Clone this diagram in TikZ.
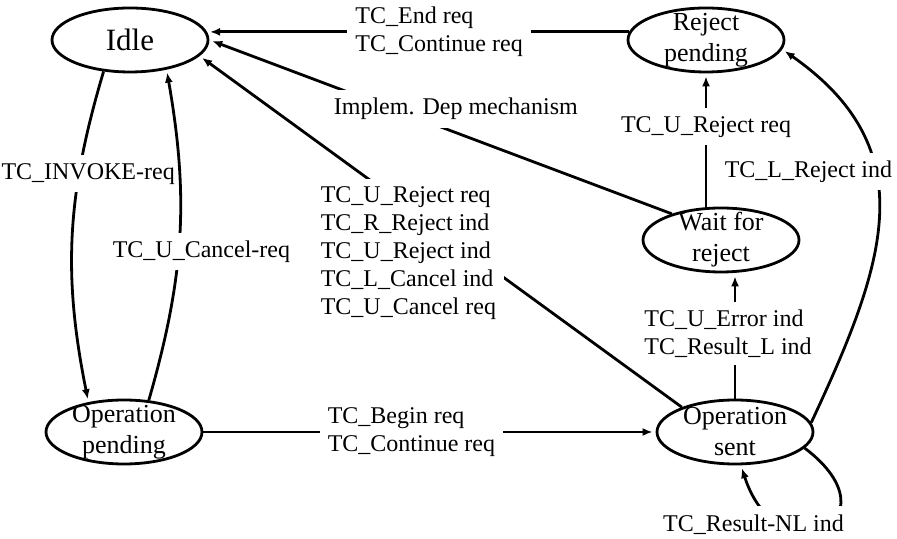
\documentclass[tikz,border=0pt]{standalone}
\usepackage{fontspec}
\setmainfont{Liberation Serif}
\usetikzlibrary{shapes.geometric, positioning, arrows.meta}

\begin{document}
\begin{tikzpicture}[shorten >=1.5pt, on grid, line width=1.4pt, >={Latex[length=5pt,width=4pt]},
    state/.style={ellipse, draw, minimum width=78pt, minimum height=32pt, inner xsep=0pt, inner ysep=-6pt,
      align=center, font=\fontsize{13}{15.5}\selectfont},
    lbl/.style={fill=white, inner sep=4pt, align=left, font=\fontsize{12}{14}\selectfont}]
      \useasboundingbox (0,0) rectangle (448.5pt,269.5pt);
      \node[state, font=\fontsize{15.5}{18}\selectfont] (idle) at (65pt,249.5pt) {Idle};
      \node[state] (rej)  [right=288pt of idle] {Reject\\pending};
      \node[state] (pend) [below left=196pt and 3pt of idle] {Operation\\pending};
      \node[state] (sent) [right=305.5pt of pend] {Operation\\sent};
      \node[state] (wait) [above left=96pt and 7pt of sent] {Wait for\\reject};
      \path[->]
      (rej.174) edge node[lbl, pos=0.45] (l_end) {TC\_End req\\TC\_Continue req} (idle.6)
      (wait.152) edge node[lbl, pos=0.467, yshift=12pt] (l_impl) {Implem. Dep mechanism} (idle.east)
      (sent.155) edge node[lbl, pos=0.567, yshift=-22.5pt] (l_abort)
            {TC\_U\_Reject req\\TC\_R\_Reject ind\\TC\_U\_Reject ind\\TC\_L\_Cancel ind\\TC\_U\_Cancel req} (idle.-13)
      (idle.-130) edge [bend right=14] node[lbl, pos=0.3, xshift=4.5pt, inner xsep=1pt] (l_inv) {TC\_INVOKE-req} (pend.140)
      (pend.52) edge [bend right=13] node[lbl, pos=0.45, xshift=11.5pt] (l_canc) {TC\_U\_Cancel-req} (idle.-39)
      (pend) edge node[lbl, pos=0.46] (l_begin) {TC\_Begin req\\TC\_Continue req} (sent)
      (sent.north) edge node[lbl, pos=0.52, xshift=-3.5pt] (l_err) {TC\_U\_Error ind\\TC\_Result\_L ind} (sent.north |- wait.south)
      (wait.north -| rej.south) edge node[lbl, pos=0.6] (l_urej) {TC\_U\_Reject req} (rej.south)
      (sent.7) edge [out=65, in=-35, looseness=1.2] node[lbl, pos=0.62, xshift=-33pt] (l_lrej) {TC\_L\_Reject ind} (rej.-7)
      (sent.-13) edge [out=-37, in=-72, looseness=4.7] node[lbl, pos=0.55, xshift=-31pt, yshift=2.5pt] (l_nl) {TC\_Result-NL ind} (sent.-80);
\end{tikzpicture}
\end{document}
